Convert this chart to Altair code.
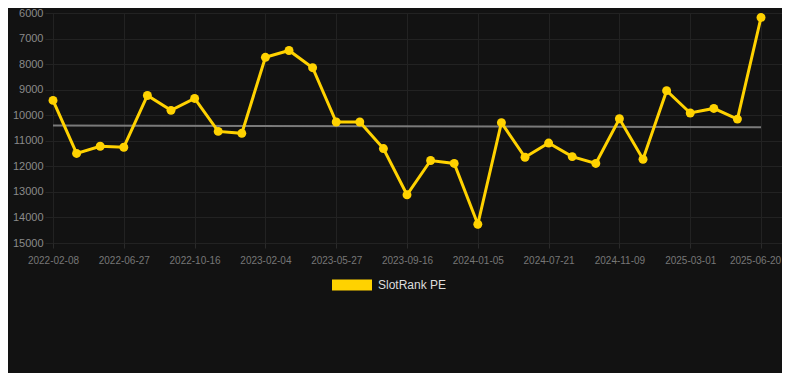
import altair as alt
import pandas as pd

dates = [
    "2022-02-08", "2022-03-26", "2022-05-11",
    "2022-06-27", "2022-08-03", "2022-09-09",
    "2022-10-16", "2022-11-22", "2022-12-29",
    "2023-02-04", "2023-03-13", "2023-04-19",
    "2023-05-27", "2023-07-03", "2023-08-09",
    "2023-09-16", "2023-10-23", "2023-11-29",
    "2024-01-05", "2024-03-10", "2024-05-15",
    "2024-07-21", "2024-08-27", "2024-10-03",
    "2024-11-09", "2024-12-16", "2025-01-22",
    "2025-03-01", "2025-04-07", "2025-05-14",
    "2025-06-20",
]
values = [
    9420, 11495, 11215, 11253, 9228, 9810, 9342, 10633, 10709, 7734,
    7468, 8139, 10266, 10266, 11305, 13114, 11772, 11886, 14266, 10291,
    11646, 11089, 11620, 11886, 10139, 11722, 9038, 9912, 9734, 10152,
    6177,
]
label_dates = dates[::3]
y_ticks = [6000, 7000, 8000, 9000, 10000, 11000, 12000, 13000, 14000, 15000]
trend_dates = [dates[0], dates[-1]]
trend_values = [10400, 10470]
series_name = "SlotRank PE"

GOLD = "#FFD200"
BG = "#121212"

df = pd.DataFrame({"date": dates, "value": values, "series": series_name})
tdf = pd.DataFrame({"date": trend_dates, "value": trend_values})

last_label_test = "datum.value == '" + dates[-1] + "'"

x_enc = alt.X(
    "date:O",
    sort=None,
    title=None,
    scale=alt.Scale(type="point", domain=dates, padding=0.614, align=0.276),
    axis=alt.Axis(
        values=label_dates,
        labelAngle=0,
        labelFontSize=10,
        labelColor="#777777",
        labelFont="Liberation Sans",
        labelPadding=7,
        labelOffset={"condition": {"test": last_label_test, "value": -6}, "value": 0},
        grid=True,
        gridColor="#222222",
        domain=False,
        ticks=True,
        tickSize=5,
        tickColor="#2a2a2a",
    ),
)
y_enc = alt.Y(
    "value:Q",
    title=None,
    scale=alt.Scale(domain=[6000, 15000], reverse=True, nice=False, zero=False),
    axis=alt.Axis(
        values=y_ticks,
        format="d",
        labelFontSize=11,
        labelColor="#8a8a8a",
        labelFont="Liberation Sans",
        labelPadding=2,
        ticks=False,
        tickSize=0,
        domain=False,
        grid=True,
        gridColor="#222222",
    ),
)

trend = alt.Chart(tdf).mark_line(color="#7a7a7a", strokeWidth=2).encode(x=x_enc, y=y_enc)

line = alt.Chart(df).mark_line(color=GOLD, strokeWidth=3).encode(x=x_enc, y=y_enc)

points = alt.Chart(df).mark_circle(size=80, opacity=1).encode(
    x=x_enc,
    y=y_enc,
    color=alt.Color(
        "series:N",
        scale=alt.Scale(domain=[series_name], range=[GOLD]),
        legend=alt.Legend(
            title=None,
            orient="none",
            legendX=287,
            legendY=252,
            symbolType="M-1,-0.275H1V0.275H-1Z",
            symbolSize=1600,
            symbolStrokeWidth=0,
            symbolOpacity=1,
            labelFontSize=12,
            labelColor="#dddddd",
            labelFont="Liberation Sans",
            labelOffset=6,
        ),
    ),
)

chart = (
    alt.layer(trend, line, points)
    .properties(
        width=737,
        height=230,
        background=BG,
        padding={"left": 37, "top": 5, "right": 0, "bottom": 130},
        autosize=alt.AutoSizeParams(type="none"),
    )
    .configure_view(stroke=None)
)

chart.save("out.html", embed_options={"renderer": "svg", "actions": False})
